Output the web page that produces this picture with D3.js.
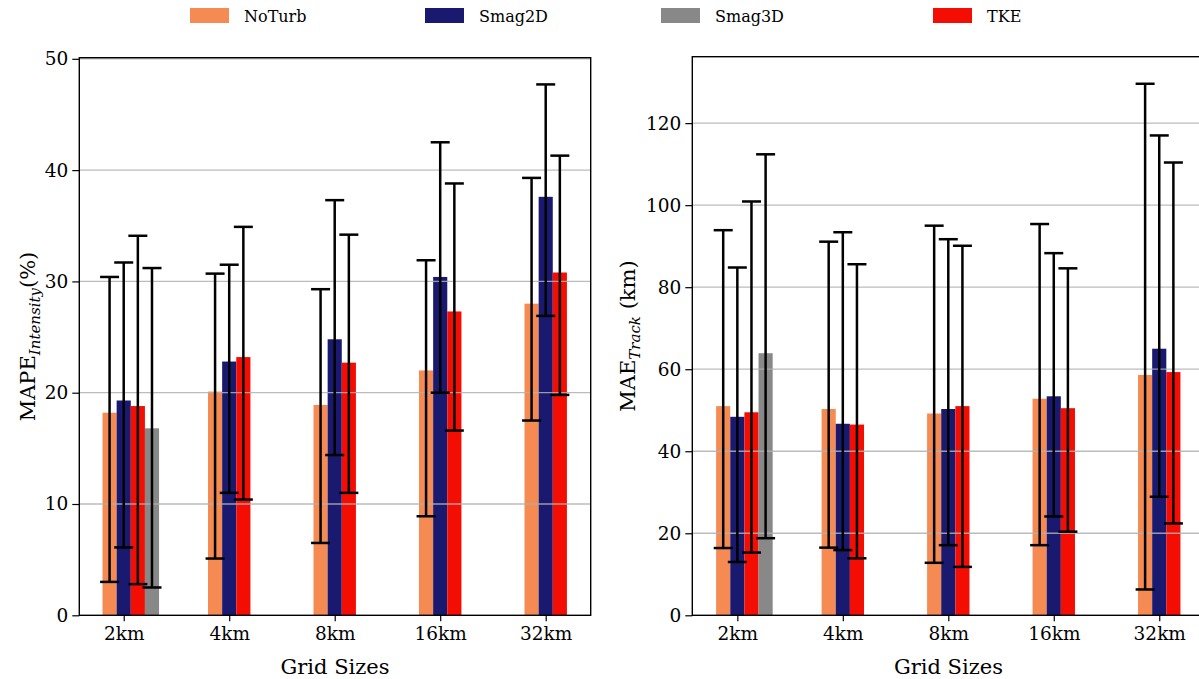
<!DOCTYPE html>
<html><head><meta charset="utf-8">
<script src="https://cdn.jsdelivr.net/npm/d3@7"></script>
<style>
body{margin:0;background:#fff}
svg{display:block}
text{font-family:"DejaVu Serif",serif;fill:#000}
</style>
</head><body>
<svg id="c" width="1199" height="679"></svg>
<script>
// ---------- data ----------
const categories = ["2km", "4km", "8km", "16km", "32km"];
const seriesNames = ["NoTurb", "Smag2D", "Smag3D", "TKE"];

// Intensity (MAPE %) – bar value, error-bar low, error-bar high
const noTurbInt   = [18.2, 20.1, 18.9, 22.0, 28.0];
const noTurbIntLo = [3.0, 5.1, 6.5, 8.9, 17.5];
const noTurbIntHi = [30.4, 30.7, 29.3, 31.9, 39.3];
const smag2dInt   = [19.3, 22.8, 24.8, 30.4, 37.6];
const smag2dIntLo = [6.1, 11.0, 14.4, 20.0, 26.9];
const smag2dIntHi = [31.7, 31.5, 37.3, 42.5, 47.7];
const smag3dInt   = [16.8, null, null, null, null];
const smag3dIntLo = [2.5, null, null, null, null];
const smag3dIntHi = [31.2, null, null, null, null];
const tkeInt      = [18.8, 23.2, 22.7, 27.3, 30.8];
const tkeIntLo    = [2.8, 10.4, 11.0, 16.6, 19.8];
const tkeIntHi    = [34.1, 34.9, 34.2, 38.8, 41.3];

// Track (MAE km)
const noTurbTrk   = [51.0, 50.3, 49.2, 52.8, 58.6];
const noTurbTrkLo = [16.4, 16.5, 12.8, 17.1, 6.3];
const noTurbTrkHi = [93.9, 91.1, 95.0, 95.4, 129.6];
const smag2dTrk   = [48.4, 46.7, 50.3, 53.4, 65.0];
const smag2dTrkLo = [13.0, 15.9, 17.1, 24.1, 28.9];
const smag2dTrkHi = [84.8, 93.4, 91.7, 88.3, 117.0];
const smag3dTrk   = [63.9, null, null, null, null];
const smag3dTrkLo = [18.8, null, null, null, null];
const smag3dTrkHi = [112.4, null, null, null, null];
const tkeTrk      = [49.5, 46.5, 51.0, 50.5, 59.3];
const tkeTrkLo    = [15.3, 13.9, 11.8, 20.4, 22.4];
const tkeTrkHi    = [100.9, 85.6, 90.1, 84.6, 110.4];

const intTicks = [0, 10, 20, 30, 40, 50];
const trkTicks = [0, 20, 40, 60, 80, 100, 120];

// ---------- style ----------
const colors = {NoTurb: "#f58a52", Smag2D: "#191970", Smag3D: "#888888", TKE: "#f40d02"};
const offsets = {NoTurb: -1, Smag2D: 0, TKE: 1, Smag3D: 2};
const drawOrder = ["NoTurb", "Smag2D", "TKE", "Smag3D"];
const barW = 0.134;
const FONT = '"DejaVu Serif", serif';

const svg = d3.select("#c");

function panel(cfg) {
  const x = d3.scaleLinear().domain(cfg.xDomain).range([cfg.left, cfg.right]);
  const y = d3.scaleLinear().domain(cfg.yDomain).range([cfg.bottom, cfg.top]);
  const g = svg.append("g");
  const bw = x(barW) - x(0);

  const groups = drawOrder.map(name => ({name, vals: cfg.data[name]}));

  // bars
  groups.forEach(s => {
    g.append("g").selectAll("rect")
      .data(categories.map((c, i) => ({i, v: s.vals[0][i]})).filter(d => d.v != null))
      .join("rect")
      .attr("x", d => x(d.i + offsets[s.name] * barW) - bw / 2)
      .attr("width", bw)
      .attr("y", d => y(d.v))
      .attr("height", d => y(0) - y(d.v))
      .attr("fill", colors[s.name]);
  });

  // grid
  g.append("g").selectAll("line").data(cfg.ticks.filter(t => t > 0)).join("line")
    .attr("x1", cfg.left).attr("x2", cfg.right)
    .attr("y1", d => y(d)).attr("y2", d => y(d))
    .attr("stroke", "#b0b0b0").attr("stroke-width", 1.3).attr("stroke-opacity", 0.85);

  // error bars
  groups.forEach(s => {
    const ed = categories.map((c, i) => ({i, lo: s.vals[1][i], hi: s.vals[2][i]})).filter(d => d.lo != null);
    const eg = g.append("g").attr("stroke", "#000").attr("stroke-width", 2.5);
    ed.forEach(d => {
      const cx = x(d.i + offsets[s.name] * barW);
      eg.append("line").attr("x1", cx).attr("x2", cx).attr("y1", y(d.lo)).attr("y2", y(d.hi));
      eg.append("line").attr("x1", cx - 9.5).attr("x2", cx + 9.5).attr("y1", y(d.lo)).attr("y2", y(d.lo));
      eg.append("line").attr("x1", cx - 9.5).attr("x2", cx + 9.5).attr("y1", y(d.hi)).attr("y2", y(d.hi));
    });
  });

  // axes
  const xAxis = d3.axisBottom(x).tickValues(categories.map((c, i) => i))
    .tickFormat((d, i) => categories[i]).tickSize(6).tickPadding(6);
  const yAxis = d3.axisLeft(y).tickValues(cfg.ticks).tickSize(7).tickPadding(4);
  const xa = g.append("g").attr("transform", `translate(0,${cfg.bottom})`).call(xAxis);
  const ya = g.append("g").attr("transform", `translate(${cfg.left},0)`).call(yAxis);
  [xa, ya].forEach(a => {
    a.attr("font-size", null).attr("font-family", null);
    a.select(".domain").remove();
    a.selectAll(".tick line").attr("stroke", "#000").attr("stroke-width", 1.2);
    a.selectAll(".tick text").style("font-size", "18.5px").style("font-family", FONT).attr("fill", "#000");
  });

  // frame
  g.append("rect").attr("x", cfg.left).attr("y", cfg.top)
    .attr("width", cfg.right - cfg.left).attr("height", cfg.bottom - cfg.top)
    .attr("fill", "none").attr("stroke", "#000").attr("stroke-width", 1.4);

  // x label
  g.append("text").attr("x", (cfg.left + cfg.right) / 2).attr("y", 674)
    .attr("text-anchor", "middle").style("font-size", "21px").text("Grid Sizes");

  // y label
  const yl = g.append("text").attr("transform", `translate(${cfg.yLabelX},${(cfg.top + cfg.bottom) / 2}) rotate(-90)`)
    .attr("text-anchor", "middle").style("font-size", "21px");
  yl.append("tspan").text(cfg.yMain);
  yl.append("tspan").attr("font-style", "italic").style("font-size", "15px").attr("dy", 5).text(cfg.ySub);
  yl.append("tspan").attr("dy", -5).text(cfg.yTail);
}

panel({
  left: 79.3, right: 590.7, top: 57.7, bottom: 615.3,
  xDomain: [-0.421, 4.4265], yDomain: [0, 50.1], ticks: intTicks,
  data: {
    NoTurb: [noTurbInt, noTurbIntLo, noTurbIntHi],
    Smag2D: [smag2dInt, smag2dIntLo, smag2dIntHi],
    Smag3D: [smag3dInt, smag3dIntLo, smag3dIntHi],
    TKE: [tkeInt, tkeIntLo, tkeIntHi]
  },
  yLabelX: 35, yMain: "MAPE", ySub: "Intensity", yTail: "(%)"
});

panel({
  left: 692.3, right: 1204.6, top: 56.7, bottom: 615.3,
  xDomain: [-0.427, 4.43], yDomain: [0, 136.2], ticks: trkTicks,
  data: {
    NoTurb: [noTurbTrk, noTurbTrkLo, noTurbTrkHi],
    Smag2D: [smag2dTrk, smag2dTrkLo, smag2dTrkHi],
    Smag3D: [smag3dTrk, smag3dTrkLo, smag3dTrkHi],
    TKE: [tkeTrk, tkeTrkLo, tkeTrkHi]
  },
  yLabelX: 635, yMain: "MAE", ySub: "Track", yTail: " (km)"
});

// legend
const legendX = [190, 425, 661, 933];
const lg = svg.append("g");
seriesNames.forEach((name, i) => {
  lg.append("rect").attr("x", legendX[i]).attr("y", 8).attr("width", 39).attr("height", 15).attr("fill", colors[name]);
  lg.append("text").attr("x", legendX[i] + 54).attr("y", 22).style("font-size", "16px").text(name);
});
</script>
</body></html>
